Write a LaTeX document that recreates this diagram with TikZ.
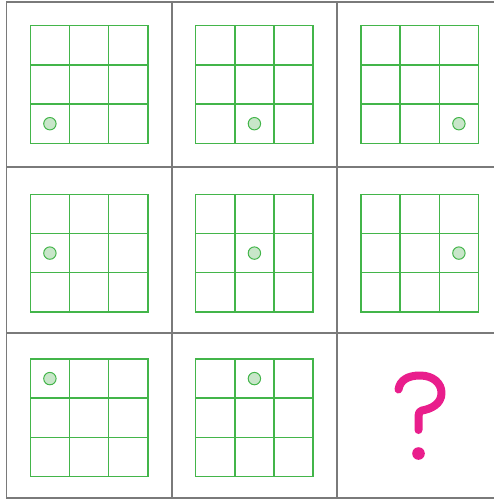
\documentclass[tikz,border=0pt]{standalone}
\definecolor{framegray}{HTML}{7A7A7A}
\definecolor{gridgreen}{HTML}{43B54A}
\definecolor{dotgreen}{HTML}{C8E6C9}
\definecolor{qpink}{HTML}{E91E8C}
\begin{document}
\begin{tikzpicture}[x=1pt, y=-1pt,
        frame/.style={draw=framegray, line width=1.7pt},
        gridline/.style={draw=gridgreen, line width=1.5pt, line cap=rect},
        dot/.style={draw=gridgreen, fill=dotgreen, line width=1pt},
        qmark/.style={draw=qpink, line width=8pt, line cap=round, line join=round}]
        \useasboundingbox (0,0) rectangle (494,499);

        % Outer frame
        \draw[frame] (6.5,2) rectangle (503,498);
        \foreach \x in {172,337} \draw[frame] (\x,2) -- (\x,498);
        \foreach \y in {167.3,333} \draw[frame] (6.5,\y) -- (503,\y);

        % Small grids with dots
        \foreach \c/\r in {0/0,1/0,2/0,0/1,1/1,2/1,0/2,1/2} {
            \pgfmathsetmacro\gleft{30.3+165.3*\c}
            \pgfmathsetmacro\gtop{{25.7,194.3,359}[\r]}
            \foreach \k in {0,...,3} {
                \draw[gridline] (\gleft+39.2*\k,\gtop) -- ++(0,117.6);
                \draw[gridline] (\gleft,\gtop+39.2*\k) -- ++(117.6,0);
            }
            \filldraw[dot] (\gleft+39.2*\c+19.6,\gtop+39.2*2-39.2*\r+19.6) circle (6.2);
        }

        % Question mark
        \draw[qmark] (398.5,389.5) .. controls (400,380) and (408,375.5) .. (420,375.5)
            .. controls (433,375.5) and (441.5,383) .. (441.5,393)
            .. controls (441.5,404) and (431,409) .. (422,410.5)
            .. controls (419.5,411) and (418.5,413) .. (418.5,416) -- (418.5,430);
        \fill[qpink] (418.5,453.5) circle (6.3);
    \end{tikzpicture}
\end{document}
